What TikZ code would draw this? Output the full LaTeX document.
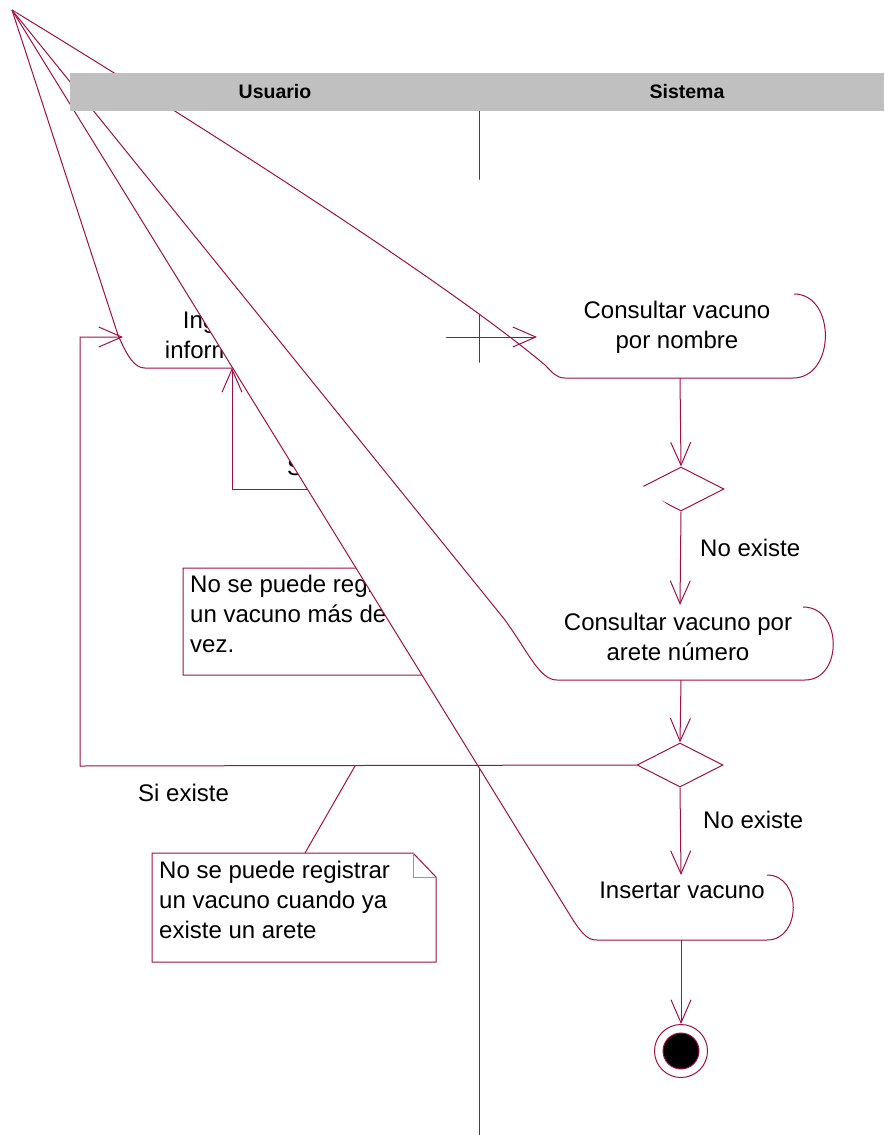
\documentclass[tikz,border=0pt]{standalone}
\usepackage{fontspec}
\setmainfont{Liberation Sans}
\usetikzlibrary{arrows.meta,shapes.geometric}
\definecolor{roseline}{RGB}{160,16,70}
\definecolor{foldline}{RGB}{205,120,150}
\definecolor{lanegray}{RGB}{192,192,192}
\tikzset{
  flow/.style={draw=roseline, line width=1pt},
  go/.style={flow, -{Straight Barb[length=23pt,width=20pt]}},
  acttext/.style={font=\fontsize{24}{30}\selectfont, inner sep=0pt, align=center, anchor=base},
  notetext/.style={font=\fontsize{24}{30}\selectfont, inner sep=0pt, align=left, anchor=base west},
  decision/.style={flow, diamond, fill=white, minimum width=86pt, minimum height=44pt, inner sep=0pt},
  lanetext/.style={font=\bfseries\fontsize{19.5}{20}\selectfont, inner sep=0pt}
}
\begin{document}
\begin{tikzpicture}[x=1pt, y=-1pt]
    \useasboundingbox (0,0) rectangle (884,1135);
    \coordinate (apex) at (12,10);
    \coordinate (a-left) at (123,337); \coordinate (a-bottom) at (232,368); \coordinate (a-out) at (385,337);
    \coordinate (b-in) at (537,337); \coordinate (b-out) at (680,378);
    \coordinate (c-in) at (680,605); \coordinate (c-out) at (681,680);
    \coordinate (i-in) at (681,875); \coordinate (i-out) at (681,940);
    \coordinate (loop-corner) at (80,766); \coordinate (n2-tip) at (355,766);
    \draw[flow] (479,111) -- (479,1135);
    \draw[flow, fill=white] (apex) -- (118,335) .. controls (128,358) and (135,368) .. (145,368) -- (360,368) .. controls (392,368) and (392,284) .. (360,284);
    \node[acttext] (ingresar) at (227,358) {Ingresar\\información};
    \draw[flow, fill=white] (444,568) -- (183,568) -- (183,675) -- (467,675) -- (467,592) -- cycle;
    \draw[draw=foldline] (444,568) |- (467,592);
    \node[notetext] (nota1) at (190,652) {No se puede registrar\\un vacuno más de una\\vez.};
    \node[decision] (d1) at (681,489) {};
    \draw[go] (d1.west) -| (a-bottom);
    \node[notetext] (si1) at (287,475) {Si existe};
    \draw[flow, fill=white] (apex) .. controls (212,132) and (450,285) .. (545,365) .. controls (552,372) and (556,378) .. (565,378) -- (793,378) .. controls (836,378) and (836,294) .. (794,294);
    \node[acttext] (nombre) at (677,348) {Consultar vacuno\\por nombre};
    \draw[go] (a-out) -- (b-in);
    \draw[go] (b-out) -- (d1.north);
    \draw[flow, fill=white] (apex) -- (573,920) .. controls (583,935) and (588,940) .. (597,940) -- (767,940) .. controls (802,940) and (802,875) .. (767,875);
    \node[acttext] (insertar) at (682,898) {Insertar vacuno};
    \draw[flow, fill=white] (apex) -- (505,620) .. controls (530,655) and (540,680) .. (557,680) -- (805,680) .. controls (843,680) and (843,607) .. (803,607);
    \node[acttext] (arete) at (678,660) {Consultar vacuno por\\arete número};
    \draw[go] (d1.south) -- (c-in);
    \node[notetext] (no1) at (700,556) {No existe};
    \node[decision] (d2) at (680,765) {};
    \draw[go] (c-out) -- (d2.north);
    \draw[go] (d2.west) -- (loop-corner) |- (a-left);
    \node[notetext] (si2) at (138,801) {Si existe};
    \draw[go] (d2.south) -- (i-in);
    \node[notetext] (no2) at (703,828) {No existe};
    \node[circle, flow, minimum size=53pt, inner sep=0pt] (final) at (681,1051) {};
    \node[circle, flow, fill=black, minimum size=36pt, inner sep=0pt] (finaldot) at (final) {};
    \draw[go] (i-out) -- (final.north);
    \draw[flow, fill=white] (413,853) -- (152,853) -- (152,962) -- (436,962) -- (436,877) -- cycle;
    \draw[draw=foldline] (413,853) |- (436,877);
    \node[notetext] (nota2) at (159,938) {No se puede registrar\\un vacuno cuando ya\\existe un arete};
    \draw[flow] (n2-tip) -- (305,853);
    \fill[lanegray] (70,73) rectangle (884,111);
    \node[lanetext] (usuario) at (275,92) {Usuario};
    \node[lanetext] (sistema) at (687,92) {Sistema};
\end{tikzpicture}
\end{document}
